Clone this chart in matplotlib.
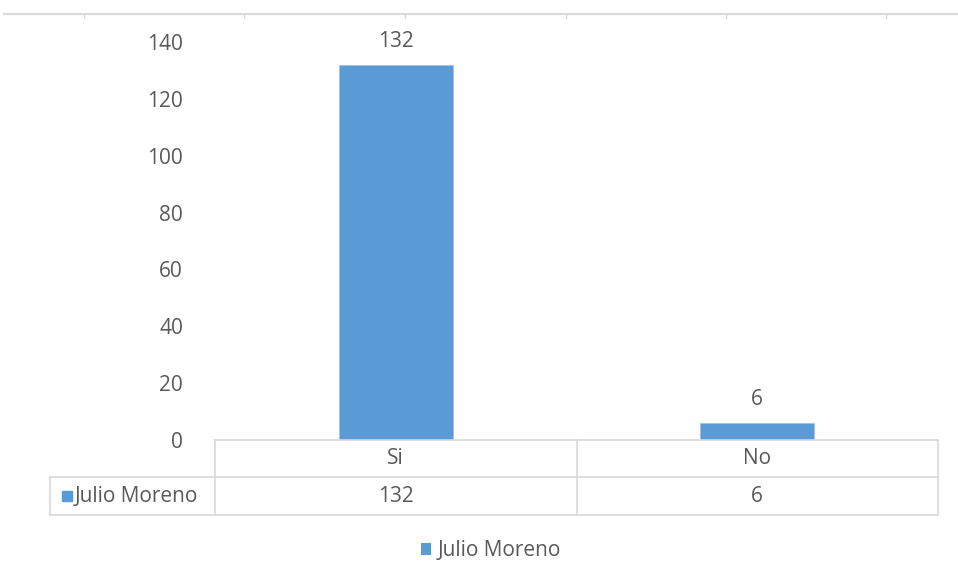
import matplotlib
matplotlib.use("Agg")
import matplotlib.pyplot as plt
from matplotlib.lines import Line2D
from matplotlib.patches import Patch

# data
categories = ["Si", "No"]
values = [132, 6]
series_name = "Julio Moreno"
yticks = [0, 20, 40, 60, 80, 100, 120, 140]

bar_color = "#5B9BD5"
text_color = "#595959"
line_color = "#D9D9D9"

plt.rcParams["font.family"] = ["Open Sans", "DejaVu Sans"]
fs = 15

fig = plt.figure(figsize=(9.58, 5.77), dpi=100)
ax = fig.add_axes([215 / 958, 1 - 440 / 577, 723 / 958, 398 / 577])

x = list(range(len(categories)))
bars = ax.bar(x, values, width=0.316, color=bar_color, edgecolor="#9DC3E6", linewidth=0.6)
for xi, v in zip(x, values):
    ax.text(xi, v + 4.5, str(v), ha="center", va="bottom", fontsize=fs, color=text_color)

ax.set_xlim(-0.5, 1.5)
ax.set_ylim(0, 140)
ax.set_yticks(yticks)
ax.set_yticklabels([str(t) for t in yticks], fontsize=fs, color=text_color)
ax.tick_params(axis="y", length=0, pad=23)
ax.set_xticks([])
for s in ax.spines.values():
    s.set_visible(False)

# data table under the plot
r1 = -37 / 398
r2 = -75 / 398
xl = (50 - 215) / 723
kw = dict(color=line_color, lw=1.2, transform=ax.transAxes, clip_on=False)
ax.add_line(Line2D([0, 1], [0, 0], **kw))
ax.add_line(Line2D([xl, 1], [r1, r1], **kw))
ax.add_line(Line2D([xl, 1], [r2, r2], **kw))
for xv in [0, 0.5, 1]:
    ax.add_line(Line2D([xv, xv], [0, r2], **kw))
ax.add_line(Line2D([xl, xl], [r1, r2], **kw))

for i, (c, v) in enumerate(zip(categories, values)):
    cx = 0.25 + 0.5 * i
    ax.text(cx, r1 / 2, c, ha="center", va="center", fontsize=fs, color=text_color,
            transform=ax.transAxes)
    ax.text(cx, (r1 + r2) / 2, str(v), ha="center", va="center", fontsize=fs,
            color=text_color, transform=ax.transAxes)

ax.plot([(67 - 215) / 723], [(r1 + r2) / 2], marker="s", ms=7.5, color=bar_color,
        transform=ax.transAxes, clip_on=False)
ax.text((75 - 215) / 723, (r1 + r2) / 2, series_name, ha="left", va="center",
        fontsize=fs, color=text_color, transform=ax.transAxes)

# legend
fig.legend(handles=[Patch(facecolor=bar_color, label=series_name)], loc="center",
           bbox_to_anchor=(491 / 958, 1 - 551 / 577), frameon=False, fontsize=fs,
           handlelength=0.5, handleheight=0.5, handletextpad=0.3,
           labelcolor=text_color)

# thin rule along the top edge
ytop = 1 - 14 / 577
fig.add_artist(Line2D([4 / 958, 1], [ytop, ytop], color=line_color, lw=1.5))
for tx in [84, 244, 405, 566, 726, 886]:
    fig.add_artist(Line2D([tx / 958, tx / 958], [ytop, ytop - 4 / 577],
                          color=line_color, lw=1))

fig.savefig("out.png", dpi=100)
